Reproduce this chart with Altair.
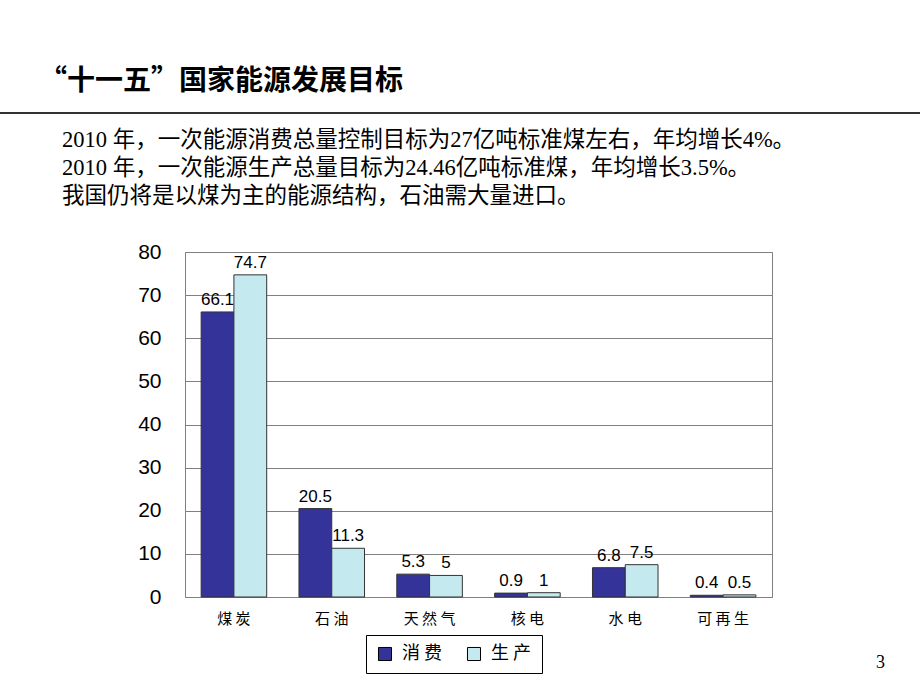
import altair as alt
import pandas as pd

categories = ["煤炭", "石油", "天然气", "核电", "水电", "可再生"]
series = ["消费", "生产"]
consumption = [66.1, 20.5, 5.3, 0.9, 6.8, 0.4]
production = [74.7, 11.3, 5, 1, 7.5, 0.5]
y_ticks = [0, 10, 20, 30, 40, 50, 60, 70, 80]
colors = ["#333399", "#C4EAF0"]

title_text = "“十一五”国家能源发展目标"
body_lines = [
    "2010 年，一次能源消费总量控制目标为27亿吨标准煤左右，年均增长4%。",
    "2010 年，一次能源生产总量目标为24.46亿吨标准煤，年均增长3.5%。",
    "我国仍将是以煤为主的能源结构，石油需大量进口。",
]
page_number = "3"

rows = []
for c, a, b in zip(categories, consumption, production):
    rows.append({"cat": c, "series": series[0], "value": a})
    rows.append({"cat": c, "series": series[1], "value": b})
df = pd.DataFrame(rows)
df["label"] = df["value"].map(lambda v: f"{v:g}")

CJK = "Noto Sans CJK SC"
SERIF = "Liberation Serif, Noto Sans CJK SC"
spaced = "join(split(datum.label, ''), ' ')"

x_enc = alt.X(
    "cat:N",
    sort=categories,
    scale=alt.Scale(paddingInner=0.33, paddingOuter=0.165),
    axis=alt.Axis(
        title=None, labelAngle=0, labelExpr=spaced, labelFont=CJK,
        labelFontSize=15, labelColor="black", domain=False, ticks=False,
        labelPadding=14,
    ),
)
xoff_enc = alt.XOffset("series:N", sort=series, scale=alt.Scale(paddingInner=0, paddingOuter=0))
y_enc = alt.Y(
    "value:Q",
    scale=alt.Scale(domain=[0, 80], nice=False),
    axis=alt.Axis(
        values=y_ticks, title=None, labelFont="Liberation Sans", labelFontSize=21,
        labelColor="black", labelPadding=24, ticks=False, domain=False,
        gridColor="#808080", gridWidth=1,
    ),
)

base = alt.Chart(df)

bars = base.mark_bar(stroke="#333333", strokeWidth=1).encode(
    x=x_enc,
    xOffset=xoff_enc,
    y=y_enc,
    color=alt.Color(
        "series:N",
        sort=series,
        scale=alt.Scale(domain=series, range=colors),
        legend=alt.Legend(
            title=None, orient="none", legendX=181, legendY=383,
            direction="horizontal", strokeColor="black", fillColor="white",
            padding=10, symbolType="square", symbolSize=170,
            symbolStrokeColor="black", symbolStrokeWidth=1,
            labelFont=CJK, labelFontSize=18, labelColor="black",
            labelExpr=spaced, columnPadding=22, symbolOpacity=1,
            labelOffset=8,
        ),
    ),
)

labels = base.mark_text(
    baseline="bottom", dy=-3, fontSize=17, font="Liberation Sans", color="black"
).encode(
    x=alt.X("cat:N", sort=categories),
    xOffset=alt.XOffset("series:N", sort=series),
    y=alt.Y("value:Q"),
    text="label:N",
)

one = alt.Data(values=[{}])

title = alt.Chart(one).mark_text(
    align="left", baseline="alphabetic", fontSize=28, fontWeight="bold", font=CJK, color="black"
).encode(x=alt.value(-146), y=alt.value(-162), text=alt.value(title_text))

hr = alt.Chart(one).mark_rule(color="#333333", strokeWidth=2).encode(
    x=alt.value(-185), x2=alt.value(735), y=alt.value(-139)
)

body_layers = []
for i, line in enumerate(body_lines):
    body_layers.append(
        alt.Chart(one).mark_text(
            align="left", baseline="alphabetic", fontSize=22.5, font=SERIF, color="black"
        ).encode(x=alt.value(-123), y=alt.value(-105 + 28 * i), text=alt.value(line))
    )

page = alt.Chart(one).mark_text(
    align="left", baseline="alphabetic", fontSize=18, font="Liberation Serif", color="black"
).encode(x=alt.value(691), y=alt.value(416), text=alt.value(page_number))

chart = alt.layer(bars, labels, title, hr, *body_layers, page).properties(
    width=587,
    height=345,
    autosize=alt.AutoSizeParams(type="none"),
    padding={"left": 185, "top": 252, "right": 148, "bottom": 93},
    background="white",
).configure_view(stroke="#808080", strokeWidth=1)

chart.save("out.html", embed_options={"renderer": "svg", "actions": False})
